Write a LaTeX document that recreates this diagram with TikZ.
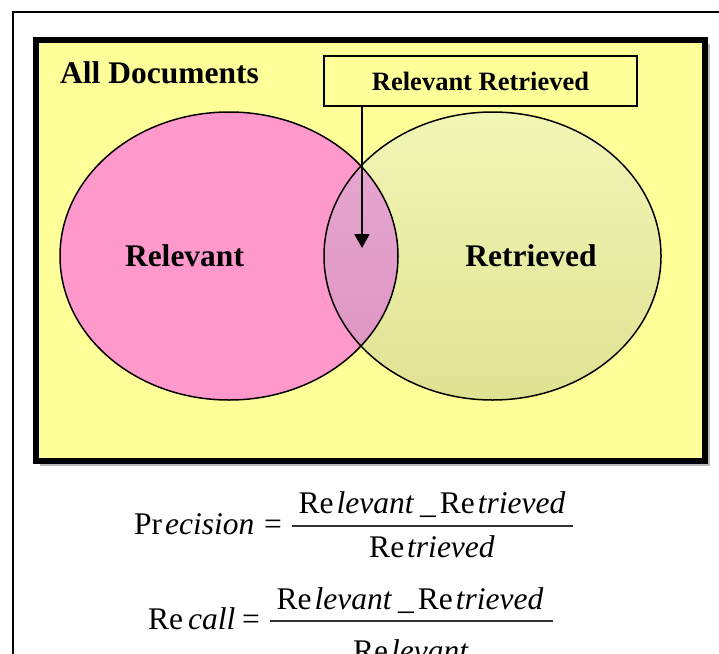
\documentclass[tikz,border=0pt]{standalone}
\usepackage{fontspec}
\setmainfont{Liberation Serif}[
  UprightFont={Liberation Serif},
  BoldFont={Liberation Serif Bold},
  ItalicFont={Liberation Serif Italic},
  BoldItalicFont={Liberation Serif Bold Italic}]
\usetikzlibrary{arrows.meta}
\definecolor{bgyellow}{RGB}{255,255,153}
\definecolor{relpink}{RGB}{255,153,204}
\definecolor{rettop}{RGB}{242,246,182}
\definecolor{retbot}{RGB}{224,226,146}
\definecolor{intop}{RGB}{232,170,212}
\definecolor{inbot}{RGB}{220,146,190}
\begin{document}
\begin{tikzpicture}[x=1pt,y=-1pt,
  biglbl/.style={inner sep=0pt, font=\fontsize{31.5}{36}\selectfont\bfseries},
  fm/.style={inner sep=0pt, font=\fontsize{31.5}{36}\selectfont},
  outline/.style={draw=black, line width=1.5pt},
  fracbar/.style={line width=1.2pt, draw=black!80}]
\useasboundingbox (0,0) rectangle (719,653);
\fill[white] (0,0) rectangle (719,653);
% outer thin frame
\draw[line width=1.3pt] (13,12) rectangle (760,700);
% shadow and main frame
\fill[gray!55] (40,44) rectangle (710,466);
\draw[line width=6pt, fill=bgyellow] (36,40) rectangle (705,461);
% ellipses
\fill[relpink] (229,256) ellipse [x radius=169pt, y radius=144pt];
\shade[top color=rettop, bottom color=retbot] (492.5,256) ellipse [x radius=168.5pt, y radius=144pt];
\begin{scope}
  \clip (229,256) ellipse [x radius=169pt, y radius=144pt];
  \shade[top color=intop, bottom color=inbot] (492.5,256) ellipse [x radius=168.5pt, y radius=144pt];
\end{scope}
\path[outline] (229,256) ellipse [x radius=169pt, y radius=144pt];
\path[outline] (492.5,256) ellipse [x radius=168.5pt, y radius=144pt];
% labels
\node[biglbl, anchor=base west] (alldocs) at (60,83) {All Documents};
\node[biglbl, anchor=base] (relevant) at (184.5,266) {Relevant};
\node[biglbl, anchor=base] (retrieved) at (531,266) {Retrieved};
\node[outline, fill=bgyellow, minimum width=313pt, minimum height=50pt, inner sep=0pt,
      font=\fontsize{26.5}{30}\selectfont\bfseries] (rrbox) at (480.5,81) {Relevant Retrieved};
\coordinate (tip) at (362,248);
\draw[line width=2pt, -{Triangle[width=15pt,length=14pt]}] (rrbox.south -| tip) -- (tip);
% precision formula
\node[fm, anchor=base west] (prec) at (134,534) {Pr\hspace{3pt}\textit{ecision}};
\node[fm, anchor=base west] (eq1) at (264,534) {=};
\node[fm, anchor=base] (pnum) at (432,513) {Re\hspace{3pt}\textit{levant}\hspace{6pt}\_\hspace{4pt}Re\hspace{3pt}\textit{trieved}};
\node[fm, anchor=base] (pden) at (432,557) {Re\hspace{3pt}\textit{trieved}};
\draw[fracbar] (292,526) -- (573,526);
% recall formula
\node[fm, anchor=base west] (rec) at (148,629) {Re\hspace{5pt}\textit{call}};
\node[fm, anchor=base west] (eq2) at (242,629) {=};
\node[fm, anchor=base] (rnum) at (410,609) {Re\hspace{3pt}\textit{levant}\hspace{6pt}\_\hspace{4pt}Re\hspace{3pt}\textit{trieved}};
\node[fm, anchor=base] (rden) at (411,661) {Re\hspace{3pt}\textit{levant}};
\draw[fracbar] (270,621) -- (553,621);
\end{tikzpicture}
\end{document}
